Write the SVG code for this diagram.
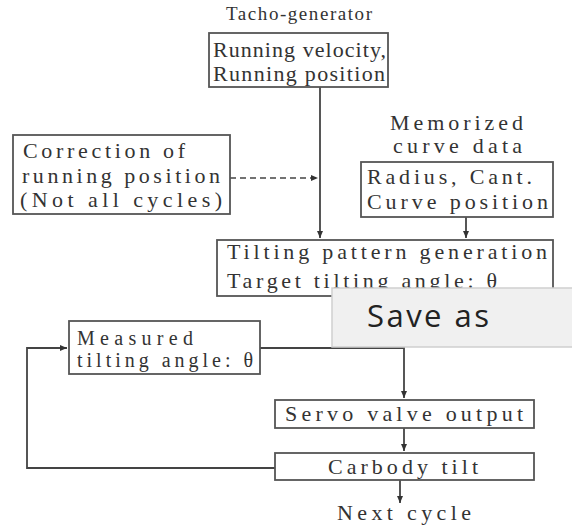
<svg xmlns="http://www.w3.org/2000/svg" width="572" height="525" viewBox="0 0 572 525">
<defs>
<marker id="ah" markerWidth="8" markerHeight="8" refX="7" refY="4" orient="auto" markerUnits="userSpaceOnUse">
<path d="M0,1 L7,4 L0,7 Z" fill="#333"/>
</marker>
<style>
.box{fill:#fff;stroke:#555;stroke-width:1.8}
.ln{fill:none;stroke:#444;stroke-width:1.8}
.dash{fill:none;stroke:#444;stroke-width:1.6;stroke-dasharray:6,4}
</style>
</defs>
<rect width="572" height="525" fill="#fff"/>
<g id="connectors">
<line class="ln" x1="320" y1="87" x2="320" y2="238" marker-end="url(#ah)"/>
<line class="dash" x1="230" y1="178" x2="318" y2="178" marker-end="url(#ah)"/>
<line class="ln" x1="466" y1="217" x2="466" y2="238" marker-end="url(#ah)"/>
<line class="ln" x1="404" y1="296" x2="404" y2="398" marker-end="url(#ah)"/>
<polyline class="ln" points="260,348 404,348"/>
<line class="ln" x1="404" y1="428" x2="404" y2="451" marker-end="url(#ah)"/>
<polyline class="ln" points="275,468 27,468 27,348 67,348" marker-end="url(#ah)"/>
<line class="ln" x1="400" y1="480" x2="400" y2="503" marker-end="url(#ah)"/>
</g>
<g font-family="'Liberation Serif', 'DejaVu Serif', serif" font-size="22" fill="#333">
<g id="tacho">
<text x="226" y="20" font-size="19" textLength="146" lengthAdjust="spacing">Tacho-generator</text>
<rect class="box" x="209" y="33" width="179" height="54"/>
<text x="213" y="57" textLength="173" lengthAdjust="spacing">Running velocity,</text>
<text x="213" y="81" textLength="172" lengthAdjust="spacing">Running position</text>
</g>
<g id="correction">
<rect class="box" x="13" y="135" width="217" height="79"/>
<text x="23" y="158" textLength="162" lengthAdjust="spacing">Correction of</text>
<text x="22" y="183" textLength="198" lengthAdjust="spacing">running position</text>
<text x="20" y="207" textLength="202" lengthAdjust="spacing">(Not all cycles)</text>
</g>
<g id="curve">
<text x="390" y="130" textLength="133" lengthAdjust="spacing">Memorized</text>
<text x="393" y="153" textLength="129" lengthAdjust="spacing">curve data</text>
<rect class="box" x="361" y="162" width="192" height="55"/>
<text x="367" y="184" textLength="165" lengthAdjust="spacing">Radius, Cant.</text>
<text x="367" y="209" textLength="181" lengthAdjust="spacing">Curve position</text>
</g>
<g id="tilting">
<rect class="box" x="217" y="240" width="336" height="56"/>
<text x="227" y="259" textLength="320" lengthAdjust="spacing">Tilting pattern generation</text>
<text x="227" y="288" textLength="270" lengthAdjust="spacing">Target tilting angle: θ</text>
</g>
<g id="measured">
<rect class="box" x="69" y="321" width="191" height="53"/>
<text x="77" y="345" font-size="20" textLength="116" lengthAdjust="spacing">Measured</text>
<text x="77" y="367" font-size="20" textLength="176" lengthAdjust="spacing">tilting angle: θ</text>
</g>
<g id="servo">
<rect class="box" x="275" y="400" width="259" height="28"/>
<text x="285" y="421" textLength="238" lengthAdjust="spacing">Servo valve output</text>
</g>
<g id="carbody">
<rect class="box" x="275" y="453" width="259" height="27"/>
<text x="328" y="474" textLength="150" lengthAdjust="spacing">Carbody tilt</text>
</g>
<g id="next">
<text x="337" y="520" textLength="134" lengthAdjust="spacing">Next cycle</text>
</g>
</g>
<g id="saveas">
<rect x="332" y="288" width="245" height="59" fill="#f0f0f0" stroke="#cfcfcf" stroke-width="1.5"/>
<text x="367" y="327" font-family="'Open Sans','Noto Sans',sans-serif" font-size="31" fill="#222" textLength="122" lengthAdjust="spacing">Save as</text>
</g>
</svg>
